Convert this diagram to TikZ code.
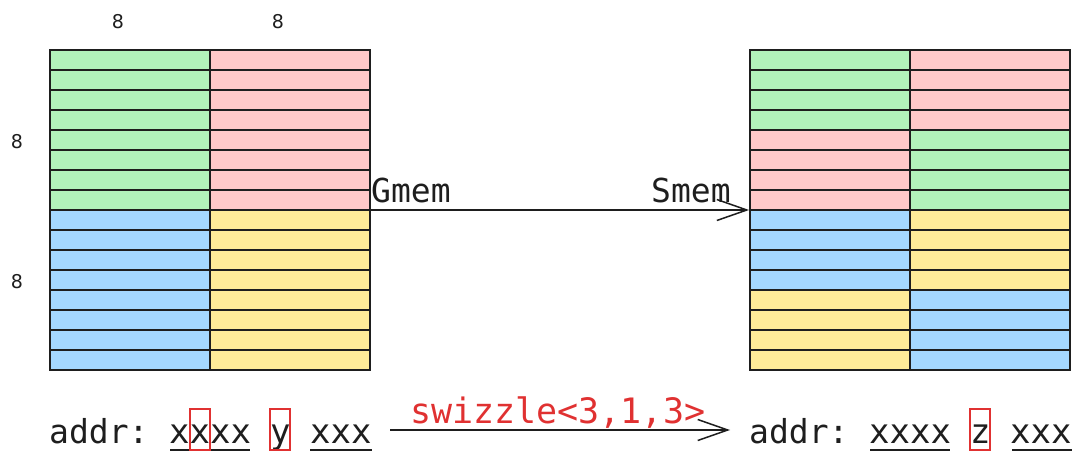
\documentclass[tikz,border=0pt]{standalone}
\usepackage{fontspec}
\newfontfamily\monofont{DejaVu Sans Mono}
\newfontfamily\handfont{DejaVu Sans}
\usetikzlibrary{arrows.meta}
\definecolor{cg}{HTML}{B2F2BB}
\definecolor{cr}{HTML}{FFC9C9}
\definecolor{cb}{HTML}{A5D8FF}
\definecolor{cy}{HTML}{FFEC99}
\definecolor{ink}{HTML}{1E1E1E}
\definecolor{redc}{HTML}{E03131}
\begin{document}
\begin{tikzpicture}[x=1pt,y=-1pt,
  gline/.style={draw=ink,line width=1.8pt},
  gbox/.style={draw=ink,line width=1.8pt,minimum width=320pt,minimum height=320pt,inner sep=0pt},
  mtext/.style={inner sep=0pt,anchor=base west,text=ink,font=\monofont\fontsize{33}{36}\selectfont},
  htext/.style={inner sep=0pt,anchor=base west,text=ink,font=\monofont\fontsize{34}{36}\selectfont},
  num/.style={inner sep=0pt,text=ink,font=\handfont\fontsize{19}{20}\selectfont},
  rbox/.style={draw=redc,line width=1.5pt},
  uline/.style={draw=ink,line width=1.5pt},
  arr/.style={draw=ink,line width=1.5pt,-{Straight Barb[length=30pt,width=21pt,line width=1.5pt]}}]
\useasboundingbox (0,0) rectangle (1087,465);
% left grid fills
\foreach \r in {0,...,7}{
  \fill[cg] (50,50+20*\r) rectangle ++(160,20);
  \fill[cr] (210,50+20*\r) rectangle ++(160,20);
  \fill[cb] (50,210+20*\r) rectangle ++(160,20);
  \fill[cy] (210,210+20*\r) rectangle ++(160,20);
}
% right grid fills
\foreach \r in {0,...,3}{
  \fill[cg] (750,50+20*\r) rectangle ++(160,20);
  \fill[cr] (910,50+20*\r) rectangle ++(160,20);
  \fill[cr] (750,130+20*\r) rectangle ++(160,20);
  \fill[cg] (910,130+20*\r) rectangle ++(160,20);
  \fill[cb] (750,210+20*\r) rectangle ++(160,20);
  \fill[cy] (910,210+20*\r) rectangle ++(160,20);
  \fill[cy] (750,290+20*\r) rectangle ++(160,20);
  \fill[cb] (910,290+20*\r) rectangle ++(160,20);
}
% grid lines
\foreach \r in {1,...,15}{
  \draw[gline] (50,50+20*\r) -- (370,50+20*\r);
  \draw[gline] (750,50+20*\r) -- (1070,50+20*\r);
}
\draw[gline] (210,50) -- (210,370);
\draw[gline] (910,50) -- (910,370);
\node[gbox] (G) at (210,210) {};
\node[gbox] (S) at (910,210) {};
% size labels
\node[num] (n1) at (118,22) {8};
\node[num] (n2) at (278,22) {8};
\node[num] (n3) at (17,142) {8};
\node[num] (n4) at (17,282) {8};
% top arrow
\node[mtext] (gm) at (371,203) {Gmem};
\node[mtext] (sm) at (651,203) {Smem};
\draw[arr] (G.east) -- (S.west);
% bottom left
\node[mtext] (ad1) at (49,443) {addr:};
\node[htext] (x1) at (169,443) {xxxx};
\node[htext] (y1) at (270,443) {y};
\node[htext] (x2) at (310,443) {xxx};
\draw[uline] (170,450) -- (250,450);
\draw[uline] (310,450) -- (372,450);
\draw[rbox] (190,409) rectangle (210,450);
\draw[rbox] (270,409) rectangle (290,450);
% bottom arrow
\coordinate (b1) at (390,430);
\coordinate (b2) at (730,430);
\draw[arr] (b1) -- (b2);
\node[inner sep=0pt,anchor=base west,text=redc,font=\monofont\fontsize{35}{36}\selectfont] (sw) at (410,423) {swizzle<3,1,3>};
% bottom right
\node[mtext] (ad2) at (749,443) {addr:};
\node[htext] (x3) at (869,443) {xxxx};
\node[htext] (z1) at (970,443) {z};
\node[htext] (x4) at (1010,443) {xxx};
\draw[uline] (870,450) -- (950,450);
\draw[uline] (1012,450) -- (1072,450);
\draw[rbox] (970,409) rectangle (990,450);
\end{tikzpicture}
\end{document}
